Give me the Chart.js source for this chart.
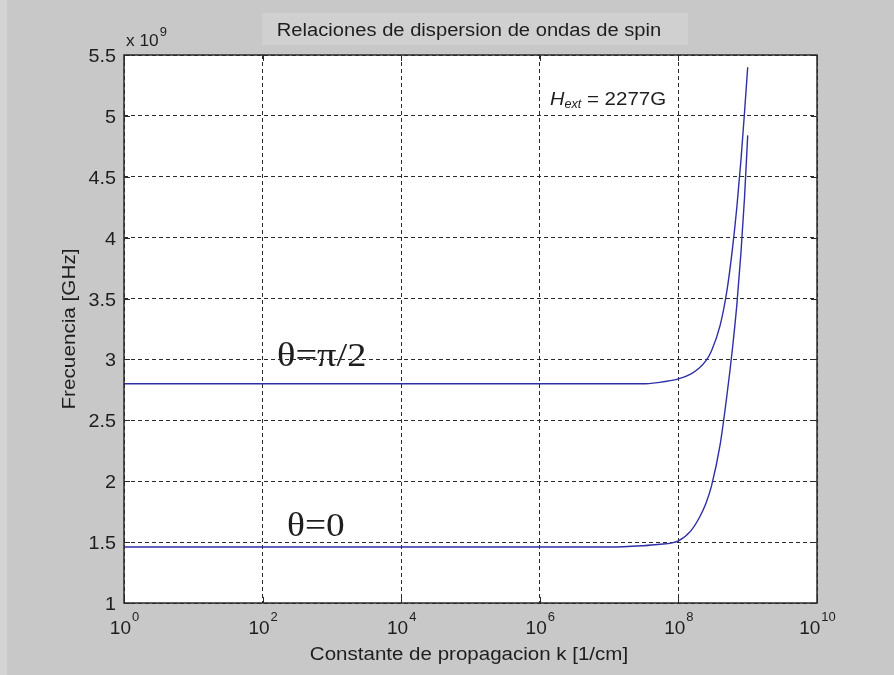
<!DOCTYPE html>
<html>
<head>
<meta charset="utf-8">
<title>Relaciones de dispersion de ondas de spin</title>
<script src="https://cdn.jsdelivr.net/npm/chart.js@4.4.1/dist/chart.umd.min.js"></script>
<style>
  html, body { margin: 0; padding: 0; background: #c8c8c8; }
  canvas { display: block; }
</style>
</head>
<body>
<canvas id="dispersion" width="894" height="675"></canvas>
<script>
// propagation constant k [1/cm]
const kValues = [1, 1e2, 1e4, 1e6, 1e7, 3e7, 5e7, 1e8, 1.5e8, 2e8, 2.5e8, 3e8, 4e8, 5e8, 6e8, 7e8, 8e8, 9e8, 1e9];
// frequency in units of 10^9, theta = pi/2
const freqPerp = [2.80, 2.80, 2.80, 2.80, 2.80, 2.80, 2.81, 2.84, 2.88, 2.93, 2.99, 3.07, 3.28, 3.56, 3.90, 4.26, 4.64, 5.03, 5.40];
// frequency in units of 10^9, theta = 0
const freqPar = [1.46, 1.46, 1.46, 1.46, 1.46, 1.47, 1.48, 1.51, 1.59, 1.70, 1.82, 1.96, 2.30, 2.70, 3.08, 3.46, 3.88, 4.33, 4.84];

const xTickExponents = [0, 2, 4, 6, 8, 10];
const yTickLabels = ['1', '1.5', '2', '2.5', '3', '3.5', '4', '4.5', '5', '5.5'];

const SANS = '"Liberation Sans", Arial, sans-serif';
const SERIF = '"Liberation Serif", "Times New Roman", serif';
const TEXT = '#1e1e1e';
const STRETCH = 1.08;

// text drawn a bit wider than the font's natural width
function wideText(ctx, str, x, y, font, align, sx) {
  ctx.save();
  ctx.font = font;
  ctx.fillStyle = TEXT;
  ctx.textAlign = align || 'left';
  ctx.textBaseline = 'alphabetic';
  ctx.translate(x, y);
  ctx.scale(sx || STRETCH, 1);
  ctx.fillText(str, 0, 0);
  ctx.restore();
}

function textWidth(ctx, str, font, sx) {
  ctx.save();
  ctx.font = font;
  const w = ctx.measureText(str).width * (sx || STRETCH);
  ctx.restore();
  return w;
}

const frame = {
  id: 'frame',
  beforeDraw(chart) {
    const ctx = chart.ctx;
    const a = chart.chartArea;
    ctx.save();
    ctx.fillStyle = '#c8c8c8';
    ctx.fillRect(0, 0, chart.width, chart.height);
    ctx.fillStyle = '#d4d4d4';
    ctx.fillRect(0, 0, 7, chart.height);
    // title backdrop
    ctx.fillStyle = '#d0d0d0';
    ctx.fillRect(262, 13, 426, 32);
    ctx.fillStyle = '#ffffff';
    ctx.fillRect(a.left, a.top, a.right - a.left, a.bottom - a.top);
    ctx.restore();
  },
  afterDraw(chart) {
    const ctx = chart.ctx;
    const a = chart.chartArea;
    const xs = chart.scales.x;
    const ys = chart.scales.y;

    ctx.save();
    // axes box
    ctx.strokeStyle = '#2a2a2a';
    ctx.lineWidth = 1.5;
    ctx.strokeRect(a.left, a.top, a.right - a.left, a.bottom - a.top);

    // inward tick marks on all four sides
    ctx.lineWidth = 1;
    ctx.beginPath();
    xTickExponents.forEach(e => {
      const px = Math.round(xs.getPixelForValue(Math.pow(10, e))) + 0.5;
      ctx.moveTo(px, a.bottom); ctx.lineTo(px, a.bottom - 6);
      ctx.moveTo(px, a.top); ctx.lineTo(px, a.top + 6);
    });
    yTickLabels.forEach(t => {
      const py = Math.round(ys.getPixelForValue(parseFloat(t))) + 0.5;
      ctx.moveTo(a.left, py); ctx.lineTo(a.left + 6, py);
      ctx.moveTo(a.right, py); ctx.lineTo(a.right - 6, py);
    });
    ctx.stroke();
    ctx.restore();

    // y tick labels
    yTickLabels.forEach(t => {
      const py = ys.getPixelForValue(parseFloat(t));
      wideText(ctx, t, a.left - 8, py + 7, '19px ' + SANS, 'right', 1.04);
    });

    // x tick labels as 10^n
    xTickExponents.forEach(e => {
      const px = xs.getPixelForValue(Math.pow(10, e));
      const baseFont = '19px ' + SANS;
      const expFont = '13px ' + SANS;
      const w1 = textWidth(ctx, '10', baseFont, 1.0);
      const w2 = textWidth(ctx, String(e), expFont, 1.0);
      const x0 = px - (w1 + w2) / 2;
      wideText(ctx, '10', x0, a.bottom + 31, baseFont, 'left', 1.0);
      wideText(ctx, String(e), x0 + w1 + 1, a.bottom + 18, expFont, 'left', 1.0);
    });

    // exponent of the y axis
    const xw = textWidth(ctx, 'x 10', '16px ' + SANS);
    wideText(ctx, 'x 10', 126, 46, '16px ' + SANS);
    wideText(ctx, '9', 126 + xw + 1, 36, '12px ' + SANS);

    // title and axis titles
    wideText(ctx, 'Relaciones de dispersion de ondas de spin', 469, 36, '18px ' + SANS, 'center', 1.12);
    wideText(ctx, 'Constante de propagacion k [1/cm]', 469, 660, '18px ' + SANS, 'center', 1.14);
    ctx.save();
    ctx.translate(75, 329);
    ctx.rotate(-Math.PI / 2);
    wideText(ctx, 'Frecuencia [GHz]', 0, 0, '18px ' + SANS, 'center', 1.15);
    ctx.restore();

    // curve labels
    wideText(ctx, 'θ=π/2', 277, 366, '34px ' + SERIF, 'left', 1.13);
    wideText(ctx, 'θ=0', 287, 536, '34px ' + SERIF, 'left', 1.1);

    // external field
    const hFont = 'italic 19px ' + SANS;
    const subFont = 'italic 12px ' + SANS;
    const hw = textWidth(ctx, 'H', hFont, 1.05);
    const sw = textWidth(ctx, 'ext', subFont, 1.05);
    wideText(ctx, 'H', 550, 105, hFont, 'left', 1.05);
    wideText(ctx, 'ext', 550 + hw, 108, subFont, 'left', 1.05);
    wideText(ctx, ' = 2277G', 550 + hw + sw, 105, '19px ' + SANS, 'left', 1.08);
  }
};

new Chart(document.getElementById('dispersion'), {
  type: 'line',
  data: {
    datasets: [
      {
        label: 'θ=π/2',
        data: kValues.map((k, i) => ({ x: k, y: freqPerp[i] })),
        borderColor: '#2f2fa6',
        borderWidth: 1.4,
        pointRadius: 0,
        cubicInterpolationMode: 'monotone'
      },
      {
        label: 'θ=0',
        data: kValues.map((k, i) => ({ x: k, y: freqPar[i] })),
        borderColor: '#2f2fa6',
        borderWidth: 1.4,
        pointRadius: 0,
        cubicInterpolationMode: 'monotone'
      }
    ]
  },
  options: {
    responsive: false,
    animation: false,
    layout: { padding: { top: 55, right: 77, left: 0, bottom: 0 } },
    plugins: {
      legend: { display: false },
      tooltip: { enabled: false }
    },
    scales: {
      x: {
        type: 'logarithmic',
        min: 1,
        max: 1e10,
        afterBuildTicks: scale => {
          scale.ticks = xTickExponents.map(e => ({ value: Math.pow(10, e) }));
        },
        afterFit: scale => { scale.height = 72; },
        ticks: { display: false },
        grid: { color: '#2a2a2a', lineWidth: 1, drawTicks: false },
        border: { display: false, dash: [4, 3] }
      },
      y: {
        min: 1,
        max: 5.5,
        ticks: { display: false, stepSize: 0.5 },
        afterFit: scale => { scale.width = 124; },
        grid: { color: '#2a2a2a', lineWidth: 1, drawTicks: false },
        border: { display: false, dash: [4, 3] }
      }
    }
  },
  plugins: [frame]
});
</script>
</body>
</html>
